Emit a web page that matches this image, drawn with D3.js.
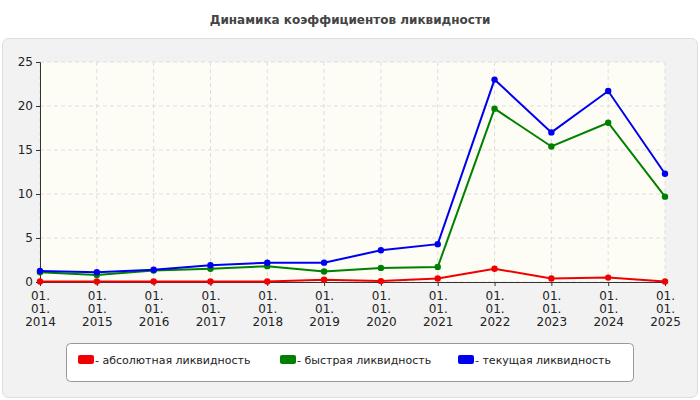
<!DOCTYPE html><html><head><meta charset="utf-8"><script src="https://cdn.jsdelivr.net/npm/d3@7"></script>
<style>body{margin:0;background:#fff;font-family:"DejaVu Sans",Verdana,sans-serif}</style></head><body><svg id="c" width="700" height="400" font-family="DejaVu Sans, Verdana, sans-serif"></svg>
<script>
const years=["2014","2015","2016","2017","2018","2019","2020","2021","2022","2023","2024","2025"];
const absolute=[0.05,0.05,0.05,0.05,0.05,0.25,0.1,0.4,1.5,0.4,0.5,0.05];
const quick=[1.1,0.8,1.3,1.5,1.8,1.2,1.6,1.7,19.7,15.4,18.1,9.7];
const current=[1.25,1.1,1.4,1.9,2.2,2.2,3.6,4.3,23.0,17.0,21.7,12.3];
const yTicks=[0,5,10,15,20,25];
const series=[{name:"- абсолютная ликвидность",v:absolute,c:"#f00000"},{name:"- быстрая ликвидность",v:quick,c:"#008000"},{name:"- текущая ликвидность",v:current,c:"#0000f0"}];
const svg=d3.select("#c");
svg.append("text").attr("x",350).attr("y",24).attr("text-anchor","middle").attr("font-size",12).attr("font-weight","bold").attr("fill","#444").text("Динамика коэффициентов ликвидности");
svg.append("rect").attr("x",2.5).attr("y",38.5).attr("width",695).attr("height",359).attr("rx",6).attr("fill","#f2f2f2").attr("stroke","#ddd");
const x=d3.scalePoint().domain(years).range([40,665]);
const y=d3.scaleLinear().domain([0,25]).range([282,62]);
svg.append("rect").attr("x",40).attr("y",62).attr("width",625).attr("height",220).attr("fill","#fdfdf6");
const g=svg.append("g");
yTicks.forEach(t=>g.append("line").attr("x1",40).attr("x2",665).attr("y1",y(t)).attr("y2",y(t)).attr("stroke","#ddd").attr("stroke-dasharray","4,3"));
years.forEach(t=>g.append("line").attr("x1",x(t)).attr("x2",x(t)).attr("y1",62).attr("y2",282).attr("stroke","#ddd").attr("stroke-dasharray","4,3"));
svg.append("g").attr("transform","translate(40,0)").call(d3.axisLeft(y).tickValues(yTicks).tickSize(4)).call(a=>{a.attr("font-family",null);a.selectAll("text").attr("font-size",12).attr("fill","#222");a.selectAll("line,path").attr("stroke","#333");});
const xa=svg.append("g").attr("transform","translate(0,282)").call(d3.axisBottom(x).tickSize(4).tickFormat(()=>""));
xa.attr("font-family",null);
xa.selectAll("line,path").attr("stroke","#333");
xa.selectAll(".tick").each(function(d){const t=d3.select(this).append("text").attr("fill","#222").attr("font-size",12).attr("text-anchor","middle");
["01.","01.",d].forEach((s,i)=>t.append("tspan").attr("x",0).attr("y",18+i*13).text(s));});
const line=d3.line().x((d,i)=>x(years[i])).y(d=>y(d));
series.forEach(s=>{svg.append("path").attr("d",line(s.v)).attr("fill","none").attr("stroke",s.c).attr("stroke-width",2);
svg.append("g").selectAll("circle").data(s.v).join("circle").attr("cx",(d,i)=>x(years[i])).attr("cy",d=>y(d)).attr("r",3.2).attr("fill",s.c);});
svg.append("rect").attr("x",66.5).attr("y",343.5).attr("width",567).attr("height",38).attr("rx",4).attr("fill","#fff").attr("stroke","#999");
const lx=[78,280,458];
series.forEach((s,i)=>{svg.append("rect").attr("x",lx[i]).attr("y",355).attr("width",16).attr("height",9).attr("rx",2).attr("fill",s.c);
svg.append("text").attr("x",lx[i]+17).attr("y",364).attr("font-size",11).attr("fill","#222").text(s.name);});
</script></body></html>
